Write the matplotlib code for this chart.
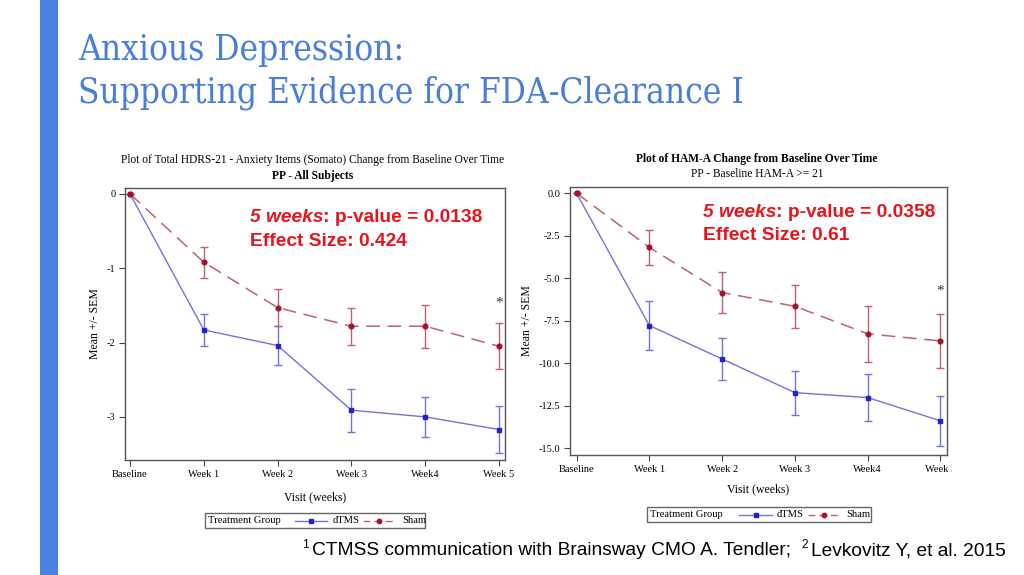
import numpy as np
import matplotlib
matplotlib.use("Agg")
import matplotlib.pyplot as plt
from matplotlib.lines import Line2D
from matplotlib.patches import Rectangle
from matplotlib.transforms import Bbox, TransformedBbox

# ---- data ----
visits = ["Baseline", "Week 1", "Week 2", "Week 3", "Week4", "Week 5"]

# left: HDRS-21 anxiety items (somato)
hdrs_dtms = [0.0, -1.83, -2.04, -2.91, -3.00, -3.17]
hdrs_dtms_sem = [0.0, 0.21, 0.26, 0.29, 0.27, 0.31]
hdrs_sham = [0.0, -0.92, -1.53, -1.78, -1.78, -2.05]
hdrs_sham_sem = [0.0, 0.21, 0.25, 0.25, 0.29, 0.31]
hdrs_yticks = [0, -1, -2, -3]
hdrs_yticklabels = ["0", "-1", "-2", "-3"]

# right: HAM-A
hama_dtms = [0.0, -7.78, -9.75, -11.73, -12.02, -13.39]
hama_dtms_sem = [0.0, 1.45, 1.26, 1.30, 1.36, 1.49]
hama_sham = [0.0, -3.18, -5.84, -6.65, -8.27, -8.69]
hama_sham_sem = [0.0, 1.03, 1.20, 1.27, 1.63, 1.60]
hama_yticks = [0.0, -2.5, -5.0, -7.5, -10.0, -12.5, -15.0]
hama_yticklabels = ["0.0", "-2.5", "-5.0", "-7.5", "-10.0", "-12.5", "-15.0"]

W, H = 1024, 575
fig = plt.figure(figsize=(W / 100, H / 100), dpi=100)
fig.patch.set_facecolor("white")
renderer = fig.canvas.get_renderer()

BLUE_LINE = "#7272dc"
BLUE_MK = "#2222c8"
RED_LINE = "#c0606e"
RED_MK = "#a2142e"
SERIF = "Liberation Serif"
SANS = "Liberation Sans"
ANN_RED = "#e8141c"


def px_axes(l, t, r, b):
    return fig.add_axes([l / W, 1 - b / H, (r - l) / W, (b - t) / H])


def panel(ax, dtms, dtms_sem, sham, sham_sem, yticks, yticklabels, ylim, xlim,
          clip_right, star_y, pval, eff, ann_xy, xpad):
    x = np.arange(len(visits))
    ax.errorbar(x, dtms, yerr=dtms_sem, color=BLUE_LINE, lw=1.0, elinewidth=1.0,
                capsize=3, capthick=1.0, marker="s", ms=3.2, mfc=BLUE_MK,
                mec=BLUE_MK, zorder=3)
    eb = ax.errorbar(x, sham, yerr=sham_sem, color=RED_LINE, lw=1.1, elinewidth=1.0,
                     capsize=3, capthick=1.0, marker="o", ms=3.4, mfc=RED_MK,
                     mec=RED_MK, zorder=4)
    eb.lines[0].set_dashes([9, 5])
    ax.set_xlim(*xlim)
    ax.set_ylim(*ylim)
    ax.set_xticks(x)
    ax.set_xticklabels(visits, fontfamily=SERIF, fontsize=7.5)
    ax.set_yticks(yticks)
    ax.set_yticklabels(yticklabels, fontfamily=SERIF, fontsize=7.5)
    ax.tick_params(length=4, width=0.8, color="#444444", pad=3)
    for s in ax.spines.values():
        s.set_color("#555555")
        s.set_linewidth(1.0)
    ax.set_xlabel("Visit (weeks)", fontfamily=SERIF, fontsize=8.5, labelpad=xpad)
    ax.set_ylabel("Mean +/- SEM", fontfamily=SERIF, fontsize=8.5)
    ax.text(x[-1], star_y, "*", ha="center", va="center", fontsize=11,
            fontfamily=SERIF, color="#333333")
    # the last tick label is cut by the edge of the pasted image
    box = TransformedBbox(Bbox([[0, 0], [clip_right / W, 1]]), fig.transFigure)
    lab = ax.get_xticklabels()[-1]
    lab.set_clip_box(box)
    lab.set_clip_on(True)
    # red annotation
    t1 = ax.text(ann_xy[0], ann_xy[1], "5 weeks", transform=ax.transAxes,
                 fontfamily=SANS, fontweight="bold", fontstyle="italic",
                 fontsize=13.8, color=ANN_RED, va="baseline")
    ax.annotate(": p-value = " + pval, xy=(1, 0), xycoords=t1, va="bottom",
                fontfamily=SANS, fontweight="bold", fontsize=13.8, color=ANN_RED)
    ax.text(ann_xy[0], ann_xy[2], "Effect Size: " + eff, transform=ax.transAxes,
            fontfamily=SANS, fontweight="bold", fontsize=13.8, color=ANN_RED,
            va="baseline")


def legend_box(l, t, r, b, h1, h2):
    fig.patches.append(Rectangle((l / W, 1 - b / H), (r - l) / W, (b - t) / H,
                                 transform=fig.transFigure, fill=False,
                                 ec="#666666", lw=1.0))
    cy = 1 - (t + b) / 2 / H
    fig.text((l + 3) / W, cy, "Treatment Group", fontfamily=SERIF, fontsize=7.6,
             va="center")
    for (x0, x1, tx), col, mk, mc, lab, dash in [
            (h1, BLUE_LINE, "s", BLUE_MK, "dTMS", None),
            (h2, RED_LINE, "o", RED_MK, "Sham", [5, 3])]:
        ln = Line2D([x0 / W, x1 / W], [cy, cy], transform=fig.transFigure,
                    color=col, lw=1.0)
        if dash:
            ln.set_dashes(dash)
        fig.lines.append(ln)
        fig.lines.append(Line2D([(x0 + x1) / 2 / W], [cy], transform=fig.transFigure,
                                marker=mk, ms=3.2, color=mc, ls="none"))
        fig.text(tx / W, cy, lab, fontfamily=SERIF, fontsize=7.6, va="center")


def text_run(x, y, pieces):
    # pieces: (text, size, rise in px, gap after in px); one shared baseline
    for s, size, rise, gap in pieces:
        t = fig.text(x / W, 1 - (y - rise) / H, s, fontfamily=SANS, fontsize=size,
                     va="baseline")
        bb = t.get_window_extent(renderer)
        x += bb.width + gap


# ---- slide decoration ----
fig.patches.append(Rectangle((40 / W, 0), 18 / W, 1, transform=fig.transFigure,
                             color="#4a80e0", lw=0))
for line, base in [("Anxious Depression:", 60),
                   ("Supporting Evidence for FDA-Clearance I", 103)]:
    fig.text(78 / W, 1 - base / H, line, fontfamily="DejaVu Serif",
             fontstretch="condensed", fontsize=25.2, color="#4a7ed6",
             va="baseline")

# ---- left panel ----
axL = px_axes(125, 188, 505, 460)
panel(axL, hdrs_dtms, hdrs_dtms_sem, hdrs_sham, hdrs_sham_sem, hdrs_yticks,
      hdrs_yticklabels, (-3.58, 0.08), (-0.068, 5.08), 515, -1.47,
      "0.0138", "0.424", (0.329, 0.875, 0.787), 9)
fig.text(313 / W, 1 - 160 / H,
         "Plot of Total HDRS-21 - Anxiety Items (Somato) Change from Baseline Over Time",
         fontfamily=SERIF, fontsize=8.3, ha="center", va="center")
fig.text(313 / W, 1 - 176 / H, "PP - All Subjects", fontfamily=SERIF,
         fontsize=8.3, ha="center", va="center", fontweight="bold")
legend_box(205, 513, 425, 528, (295, 327, 333), (363, 395, 402))

# ---- right panel ----
axR = px_axes(570, 187, 947, 455)
panel(axR, hama_dtms, hama_dtms_sem, hama_sham, hama_sham_sem, hama_yticks,
      hama_yticklabels, (-15.4, 0.37), (-0.09, 5.09), 952, -5.75,
      "0.0358", "0.61", (0.353, 0.888, 0.802), 7)
fig.text(757 / W, 1 - 159 / H, "Plot of HAM-A Change from Baseline Over Time",
         fontfamily=SERIF, fontsize=8.3, ha="center", va="center", fontweight="bold")
fig.text(757 / W, 1 - 174 / H, "PP - Baseline HAM-A >= 21", fontfamily=SERIF,
         fontsize=8.3, ha="center", va="center")
legend_box(647, 507, 871, 522, (739, 772, 777), (808, 840, 846))

# ---- footnote ----
text_run(302, 555, [("1", 8.5, 7, 3),
                    ("CTMSS communication with Brainsway CMO A. Tendler;  ", 13.8, 0, 0),
                    ("2", 8.5, 7, 3), ("Levkovitz Y, et al. 2015", 13.8, 0, 0)])

fig.savefig("out.png", dpi=100)
